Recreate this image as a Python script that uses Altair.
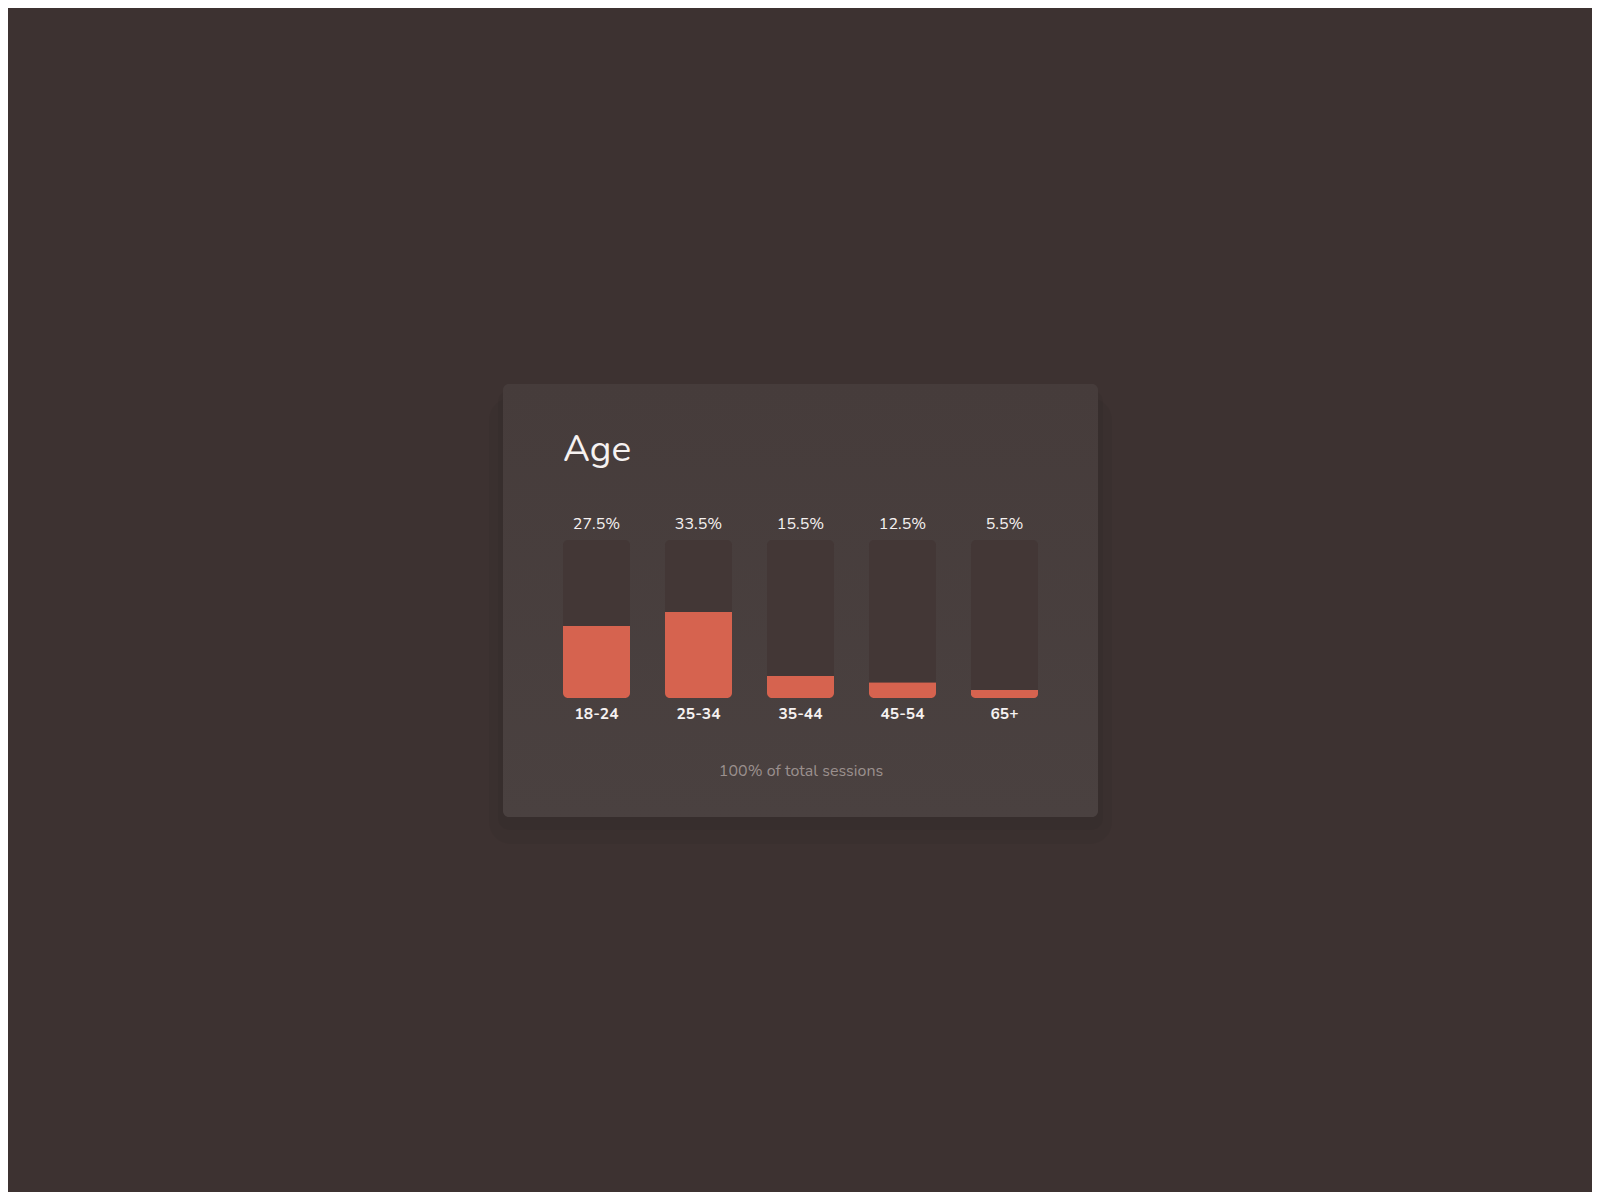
import altair as alt
import pandas as pd

# ---- data ----
categories = ["18-24", "25-34", "35-44", "45-54", "65+"]
shares = [27.5, 33.5, 15.5, 12.5, 5.5]            # printed percentages
fill_levels = [45.5, 54.5, 14.0, 10.0, 5.0]       # filled part of each track (% of track height)
track_full = [100, 100, 100, 100, 100]
title_text = ["Age"]
footer_text = "100% of total sessions"

FONT = "Nunito, Lato, sans-serif"
PAGE_BG = "#3d3231"
TRACK = "#433736"
FILL = "#d6634f"
TEXT = "#f6f2f1"
MUTED = "#9b908e"

df = pd.DataFrame({
    "category": categories,
    "share": shares,
    "label": [f"{s}%" for s in shares],
    "fill": fill_levels,
    "track": track_full,
})
one_row = pd.DataFrame({"t": title_text})

x_enc = alt.X(
    "category:N",
    sort=categories,
    scale=alt.Scale(paddingInner=0.343, paddingOuter=0),
    title=footer_text,
    axis=alt.Axis(
        labelAngle=0,
        labelFont=FONT,
        labelFontSize=15.5,
        labelFontWeight="bold",
        labelColor=TEXT,
        labelPadding=15,
        labelBaseline="middle",
        domain=False,
        ticks=False,
        tickSize=0,
        grid=False,
        titleFont=FONT,
        titleFontSize=16,
        titleFontWeight="normal",
        titleColor=MUTED,
        titlePadding=41,
        zindex=2,
    ),
)
y_scale = alt.Scale(domain=[0, 100])

decor = alt.Chart(one_row)

shadow1 = decor.mark_rect(fill="#000000", opacity=0.035, cornerRadius=22).encode(
    x=alt.value(-74), x2=alt.value(549), y=alt.value(-142), y2=alt.value(304)
)
shadow2 = decor.mark_rect(fill="#000000", opacity=0.04, cornerRadius=12).encode(
    x=alt.value(-65), x2=alt.value(540), y=alt.value(-150), y2=alt.value(290)
)
card = decor.mark_rect(
    cornerRadius=6,
    fill=alt.Gradient(
        gradient="linear",
        stops=[alt.GradientStop(color="#463c3b", offset=0),
               alt.GradientStop(color="#4a4140", offset=1)],
        x1=0, x2=0, y1=0, y2=1,
    ),
).encode(x=alt.value(-60), x2=alt.value(535), y=alt.value(-156), y2=alt.value(277))

base = alt.Chart(df)
tracks = base.mark_bar(color=TRACK, cornerRadius=5).encode(
    x=x_enc,
    y=alt.Y("track:Q", scale=y_scale, axis=None),
)
fills = base.mark_bar(color=FILL, cornerRadiusBottomLeft=5, cornerRadiusBottomRight=5).encode(
    x=x_enc,
    y=alt.Y("fill:Q", scale=y_scale, axis=None),
)
pct = base.mark_text(
    font=FONT, fontSize=16, color=TEXT, baseline="alphabetic", dy=-11
).encode(
    x=x_enc,
    y=alt.Y("track:Q", scale=y_scale, axis=None),
    text="label:N",
)
title = decor.mark_text(
    font=FONT, fontSize=37, color=TEXT, align="left", baseline="alphabetic"
).encode(x=alt.value(0), y=alt.value(-79), text="t:N")

chart = alt.layer(shadow1, shadow2, card, tracks, fills, pct, title).properties(
    width=475,
    height=158,
    padding={"left": 555, "top": 532, "right": 554, "bottom": 494},
    autosize=alt.AutoSizeParams(type="none"),
    background=PAGE_BG,
).configure_view(strokeWidth=0)

chart.save("out.html", embed_options={"renderer": "svg", "actions": False})
